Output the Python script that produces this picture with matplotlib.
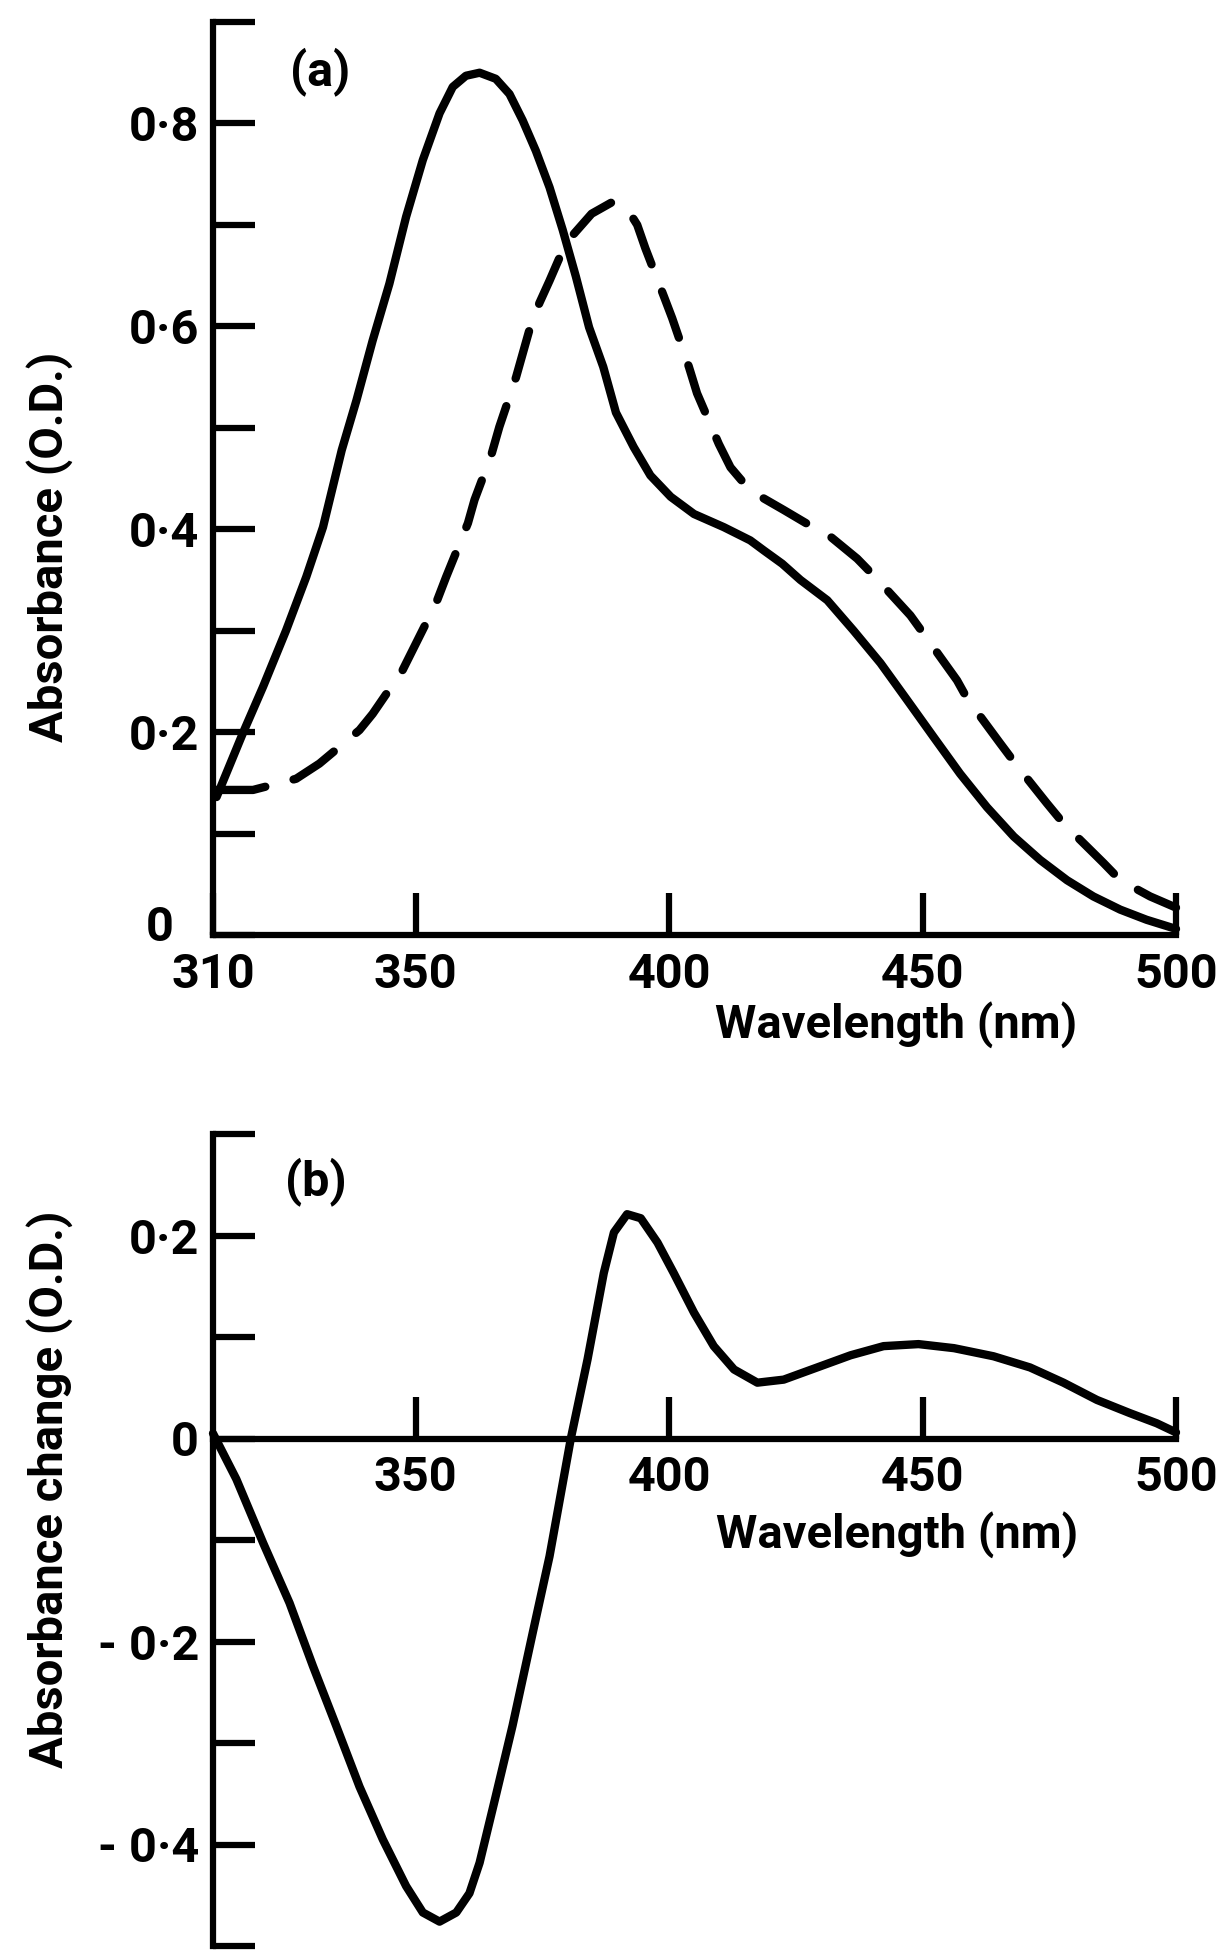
import numpy as np
import matplotlib
matplotlib.use("Agg")
import matplotlib.pyplot as plt

plt.rcParams['font.family'] = ['Roboto', 'DejaVu Sans']

# (a) absorbance spectra
wl_solid = [310.7, 312.6, 315.9, 319.9, 324.4, 328.4, 331.7, 335.4, 338.3, 341.5,
            344.8, 348.1, 351.4, 354.7, 357.3, 359.9, 362.6, 365.8, 368.5, 371.1,
            373.7, 376.4, 379.0, 381.6, 384.2, 387.0, 389.5, 393.0, 396.3, 400.3,
            404.9, 410.8, 416.0, 418.7, 422.3, 425.9, 431.2, 436.4, 441.7, 446.9,
            452.2, 457.4, 462.7, 468.0, 473.2, 478.5, 483.7, 489.0, 494.2, 500.0]
abs_solid = [0.136, 0.159, 0.199, 0.245, 0.300, 0.353, 0.402, 0.478, 0.527, 0.586,
             0.642, 0.708, 0.764, 0.810, 0.836, 0.847, 0.850, 0.844, 0.829, 0.803,
             0.773, 0.737, 0.695, 0.649, 0.599, 0.560, 0.515, 0.481, 0.453, 0.432,
             0.415, 0.402, 0.389, 0.379, 0.366, 0.350, 0.330, 0.300, 0.268, 0.232,
             0.195, 0.159, 0.126, 0.097, 0.074, 0.054, 0.038, 0.025, 0.015, 0.006]

wl_dash = [310.7, 317.9, 326.4, 331.0, 338.9, 341.5, 347.4, 349.4, 354.0, 356.0,
           360.3, 361.6, 364.9, 366.5, 369.8, 372.4, 374.4, 376.4, 379.0, 381.0,
           384.7, 388.6, 391.7, 393.7, 395.3, 399.0, 400.6, 403.9, 405.5, 409.8,
           412.1, 416.0, 422.6, 427.0, 431.5, 437.1, 441.0, 447.6, 450.2, 456.8,
           458.8, 465.3, 468.6, 474.5, 477.8, 485.7, 489.0, 494.9, 500.0]
abs_dash = [0.143, 0.143, 0.154, 0.169, 0.202, 0.218, 0.261, 0.281, 0.327, 0.353,
            0.406, 0.429, 0.473, 0.501, 0.550, 0.596, 0.623, 0.645, 0.675, 0.690,
            0.711, 0.722, 0.716, 0.700, 0.677, 0.629, 0.608, 0.560, 0.534, 0.484,
            0.461, 0.438, 0.419, 0.406, 0.394, 0.371, 0.351, 0.315, 0.297, 0.251,
            0.233, 0.189, 0.167, 0.130, 0.110, 0.071, 0.054, 0.038, 0.027]

# (b) difference spectrum
wl_diff = [310.0, 314.6, 319.9, 325.1, 329.7, 334.3, 338.9, 343.5, 348.1, 351.4,
           354.7, 358.0, 360.6, 362.6, 365.8, 369.1, 373.1, 376.4, 380.6, 383.9,
           387.1, 389.1, 391.7, 394.4, 397.7, 400.9, 404.9, 408.8, 412.8, 417.4,
           422.6, 429.2, 435.8, 442.3, 449.2, 456.2, 464.0, 471.2, 477.8, 484.4,
           490.9, 496.2, 500.0]
abs_diff = [0.005, -0.040, -0.103, -0.162, -0.224, -0.283, -0.343, -0.395, -0.441, -0.467,
            -0.476, -0.467, -0.448, -0.418, -0.352, -0.283, -0.191, -0.116, 0.0, 0.078,
            0.163, 0.203, 0.221, 0.217, 0.193, 0.163, 0.124, 0.091, 0.068, 0.055,
            0.058, 0.070, 0.082, 0.091, 0.093, 0.089, 0.081, 0.070, 0.055, 0.038,
            0.025, 0.015, 0.006]

yticks_a = [0, 0.1, 0.2, 0.3, 0.4, 0.5, 0.6, 0.7, 0.8, 0.9]
ylabels_a = ['', '', '0·2', '', '0·4', '', '0·6', '', '0·8', '']
xticks_a = [310, 350, 400, 450, 500]
xlabels_a = ['310', '350', '400', '450', '500']

yticks_b = [-0.5, -0.4, -0.3, -0.2, -0.1, 0, 0.1, 0.2, 0.3]
ylabels_b = ['', '- 0·4', '', '- 0·2', '', '0', '', '0·2', '']
xticks_b = [350, 400, 450, 500]
xlabels_b = ['350', '400', '450', '500']

W, H = 1225, 1953
fig = plt.figure(figsize=(W / 100, H / 100), dpi=100)

fs = 35
lw = 6

def style(ax):
    for s in ['top', 'right']:
        ax.spines[s].set_visible(False)
    for s in ['left', 'bottom']:
        ax.spines[s].set_linewidth(4.5)
        ax.spines[s].set_capstyle('projecting')
    ax.tick_params(direction='in', length=30, width=4.5, labelsize=fs)
    ax.tick_params(axis='y', pad=10)
    ax.tick_params(axis='x', pad=12)
    for t in ax.get_xticklabels() + ax.get_yticklabels():
        t.set_fontweight('bold')

# panel (a)
ax1 = fig.add_axes([213 / W, 1 - 935 / H, 963 / W, 913 / H])
ax1.plot(wl_solid, abs_solid, color='black', lw=lw, solid_joinstyle='round',
         solid_capstyle='round', clip_on=False)
ax1.plot(wl_dash, abs_dash, color='black', lw=lw, dashes=(5.9, 3.5),
         dash_capstyle='round', dash_joinstyle='round', clip_on=False)
ax1.set_xlim(310, 500)
ax1.set_ylim(0, 0.9)
ax1.set_yticks(yticks_a)
ax1.set_yticklabels(ylabels_a)
ax1.set_xticks(xticks_a)
ax1.set_xticklabels(xlabels_a)
style(ax1)

# panel (b)
ax2 = fig.add_axes([213 / W, 1 - 1946 / H, 963 / W, 812 / H])
ax2.plot(wl_diff, abs_diff, color='black', lw=lw, solid_joinstyle='round',
         solid_capstyle='round', clip_on=False)
ax2.set_xlim(310, 500)
ax2.set_ylim(-0.5, 0.3)
ax2.spines['bottom'].set_position(('data', 0))
ax2.set_yticks(yticks_b)
ax2.set_yticklabels(ylabels_b)
ax2.set_xticks(xticks_b)
ax2.set_xticklabels(xlabels_b)
style(ax2)

# labels
fig.text(174 / W, 1 - 928 / H, '0', fontsize=fs, fontweight='bold', ha='right', va='center')
fig.text(320 / W, 1 - 72 / H, '(a)', fontsize=fs, fontweight='bold', ha='center', va='center')
fig.text(316 / W, 1 - 1182 / H, '(b)', fontsize=fs, fontweight='bold', ha='center', va='center')
fig.text(50 / W, 1 - 547 / H, 'Absorbance (O.D.)', fontsize=fs - 1, fontweight='bold',
         rotation=90, ha='center', va='center')
fig.text(50 / W, 1 - 1489 / H, 'Absorbance change (O.D.)', fontsize=fs - 1, fontweight='bold',
         rotation=90, ha='center', va='center')
fig.text(896 / W, 1 - 1025 / H, 'Wavelength (nm)', fontsize=fs - 1, fontweight='bold',
         ha='center', va='center')
fig.text(897 / W, 1 - 1535 / H, 'Wavelength (nm)', fontsize=fs - 1, fontweight='bold',
         ha='center', va='center')

fig.savefig('out.png', dpi=100)
